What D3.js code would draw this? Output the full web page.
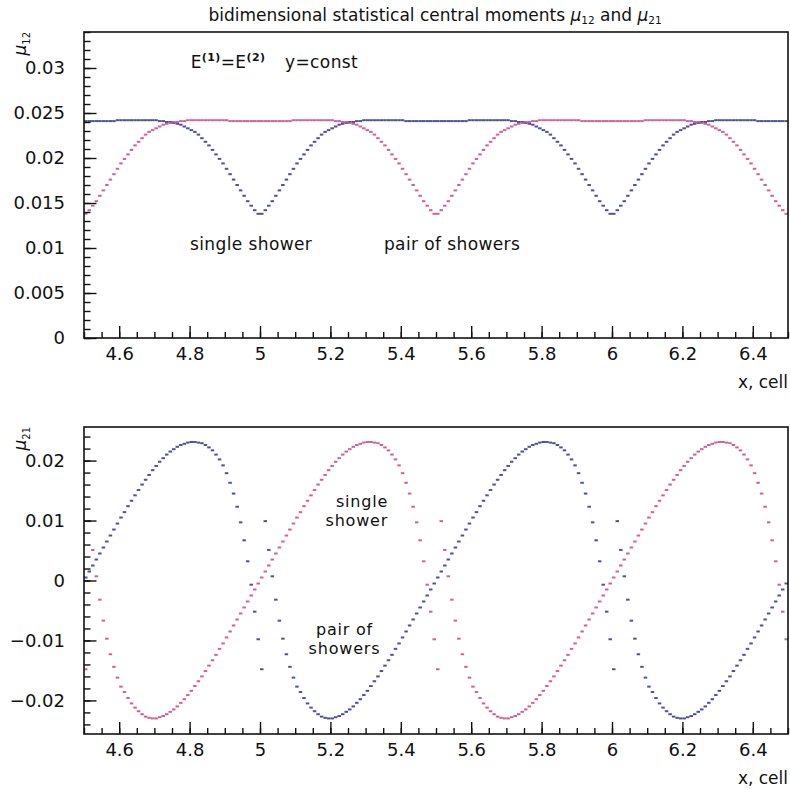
<!DOCTYPE html>
<html>
<head>
<meta charset="utf-8">
<script src="https://cdn.jsdelivr.net/npm/d3@7"></script>
<style>
  body { margin: 0; background: #fff; }
  svg { font-family: 'DejaVu Sans', 'Liberation Sans', sans-serif; fill: #111; }
  .frame { fill: none; stroke: #111; stroke-width: 1.6; }
  .axis path { display: none; }
  .axis line { stroke: #111; stroke-width: 1.4; }
  .axis text { font-size: 18px; fill: #111; font-family: 'DejaVu Sans', sans-serif; }
  .note { font-size: 17px; letter-spacing: 0.4px; }
  .note.small { font-size: 16px; letter-spacing: 0.8px; }
</style>
</head>
<body>
<svg id="chart"></svg>
<script>
// histogram bins: 200 bins of 0.01 cell between 4.5 and 6.5, values at bin centres
const xBins = d3.range(200).map(i => 4.505 + i * 0.01);

// mu_12, single shower (blue) and pair of showers (pink)
const mu12Single = [
  .0241,.0241,.0241,.0241,.0241,.0241,.0241,.0241,.0241,.0242,
  .0242,.0242,.0242,.0242,.0242,.0242,.0242,.0242,.0242,.0242,
  .0242,.0241,.0241,.0240,.0240,.0239,.0238,.0237,.0235,.0233,
  .0231,.0229,.0226,.0222,.0218,.0214,.0209,.0204,.0199,.0194,
  .0188,.0182,.0176,.0170,.0164,.0158,.0152,.0147,.0142,.0138,
  .0138,.0142,.0147,.0152,.0158,.0164,.0170,.0176,.0182,.0188,
  .0194,.0199,.0204,.0209,.0214,.0218,.0222,.0226,.0229,.0231,
  .0233,.0235,.0237,.0238,.0239,.0240,.0240,.0241,.0241,.0242,
  .0242,.0242,.0242,.0242,.0242,.0242,.0242,.0242,.0242,.0242,
  .0242,.0241,.0241,.0241,.0241,.0241,.0241,.0241,.0241,.0241,
  .0241,.0241,.0241,.0241,.0241,.0241,.0241,.0241,.0241,.0242,
  .0242,.0242,.0242,.0242,.0242,.0242,.0242,.0242,.0242,.0242,
  .0242,.0241,.0241,.0240,.0240,.0239,.0238,.0237,.0235,.0233,
  .0231,.0229,.0226,.0222,.0218,.0214,.0209,.0204,.0199,.0194,
  .0188,.0182,.0176,.0170,.0164,.0158,.0152,.0147,.0142,.0138,
  .0138,.0142,.0147,.0152,.0158,.0164,.0170,.0176,.0182,.0188,
  .0194,.0199,.0204,.0209,.0214,.0218,.0222,.0226,.0229,.0231,
  .0233,.0235,.0237,.0238,.0239,.0240,.0240,.0241,.0241,.0242,
  .0242,.0242,.0242,.0242,.0242,.0242,.0242,.0242,.0242,.0242,
  .0242,.0241,.0241,.0241,.0241,.0241,.0241,.0241,.0241,.0241
];
const mu12Pair = [
  .0138,.0142,.0147,.0152,.0158,.0164,.0170,.0176,.0182,.0188,
  .0194,.0199,.0204,.0209,.0214,.0218,.0222,.0226,.0229,.0231,
  .0233,.0235,.0237,.0238,.0239,.0240,.0240,.0241,.0241,.0242,
  .0242,.0242,.0242,.0242,.0242,.0242,.0242,.0242,.0242,.0242,
  .0242,.0241,.0241,.0241,.0241,.0241,.0241,.0241,.0241,.0241,
  .0241,.0241,.0241,.0241,.0241,.0241,.0241,.0241,.0241,.0242,
  .0242,.0242,.0242,.0242,.0242,.0242,.0242,.0242,.0242,.0242,
  .0242,.0241,.0241,.0240,.0240,.0239,.0238,.0237,.0235,.0233,
  .0231,.0229,.0226,.0222,.0218,.0214,.0209,.0204,.0199,.0194,
  .0188,.0182,.0176,.0170,.0164,.0158,.0152,.0147,.0142,.0138,
  .0138,.0142,.0147,.0152,.0158,.0164,.0170,.0176,.0182,.0188,
  .0194,.0199,.0204,.0209,.0214,.0218,.0222,.0226,.0229,.0231,
  .0233,.0235,.0237,.0238,.0239,.0240,.0240,.0241,.0241,.0242,
  .0242,.0242,.0242,.0242,.0242,.0242,.0242,.0242,.0242,.0242,
  .0242,.0241,.0241,.0241,.0241,.0241,.0241,.0241,.0241,.0241,
  .0241,.0241,.0241,.0241,.0241,.0241,.0241,.0241,.0241,.0242,
  .0242,.0242,.0242,.0242,.0242,.0242,.0242,.0242,.0242,.0242,
  .0242,.0241,.0241,.0240,.0240,.0239,.0238,.0237,.0235,.0233,
  .0231,.0229,.0226,.0222,.0218,.0214,.0209,.0204,.0199,.0194,
  .0188,.0182,.0176,.0170,.0164,.0158,.0152,.0147,.0142,.0138
];

// mu_21, single shower (blue) and pair of showers (pink)
const mu21Single = [
  .0005,.0015,.0025,.0035,.0045,.0055,.0065,.0075,.0085,.0095,
  .0105,.0114,.0124,.0133,.0142,.0151,.0160,.0168,.0176,.0184,
  .0191,.0198,.0204,.0210,.0215,.0219,.0223,.0226,.0228,.0230,
  .0231,.0231,.0230,.0229,.0226,.0222,.0217,.0210,.0202,.0192,
  .0179,.0163,.0145,.0123,.0097,.0067,.0032,-.0007,-.0052,-.0098,
  -.0148,.0099,.0051,.0007,-.0032,-.0067,-.0097,-.0123,-.0144,-.0162,
  -.0177,-.0186,-.0196,-.0205,-.0212,-.0218,-.0223,-.0227,-.0229,-.0230,
  -.0230,-.0228,-.0226,-.0223,-.0219,-.0215,-.0210,-.0204,-.0198,-.0191,
  -.0184,-.0176,-.0168,-.0160,-.0151,-.0142,-.0133,-.0124,-.0114,-.0105,
  -.0095,-.0085,-.0075,-.0065,-.0055,-.0045,-.0035,-.0025,-.0015,-.0005,
  .0005,.0015,.0025,.0035,.0045,.0055,.0065,.0075,.0085,.0095,
  .0105,.0114,.0124,.0133,.0142,.0151,.0160,.0168,.0176,.0184,
  .0191,.0198,.0204,.0210,.0215,.0219,.0223,.0226,.0228,.0230,
  .0231,.0231,.0230,.0229,.0226,.0222,.0217,.0210,.0202,.0192,
  .0179,.0163,.0145,.0123,.0097,.0067,.0032,-.0007,-.0052,-.0098,
  -.0148,.0099,.0051,.0007,-.0032,-.0067,-.0097,-.0123,-.0144,-.0162,
  -.0177,-.0186,-.0196,-.0205,-.0212,-.0218,-.0223,-.0227,-.0229,-.0230,
  -.0230,-.0228,-.0226,-.0223,-.0219,-.0215,-.0210,-.0204,-.0198,-.0191,
  -.0184,-.0176,-.0168,-.0160,-.0151,-.0142,-.0133,-.0124,-.0114,-.0105,
  -.0095,-.0085,-.0075,-.0065,-.0055,-.0045,-.0035,-.0025,-.0015,-.0005
];
const mu21Pair = [
  -.0148,.0099,.0051,.0007,-.0032,-.0067,-.0097,-.0123,-.0144,-.0162,
  -.0177,-.0186,-.0196,-.0205,-.0212,-.0218,-.0223,-.0227,-.0229,-.0230,
  -.0230,-.0228,-.0226,-.0223,-.0219,-.0215,-.0210,-.0204,-.0198,-.0191,
  -.0184,-.0176,-.0168,-.0160,-.0151,-.0142,-.0133,-.0124,-.0114,-.0105,
  -.0095,-.0085,-.0075,-.0065,-.0055,-.0045,-.0035,-.0025,-.0015,-.0005,
  .0005,.0015,.0025,.0035,.0045,.0055,.0065,.0075,.0085,.0095,
  .0105,.0114,.0124,.0133,.0142,.0151,.0160,.0168,.0176,.0184,
  .0191,.0198,.0204,.0210,.0215,.0219,.0223,.0226,.0228,.0230,
  .0231,.0231,.0230,.0229,.0226,.0222,.0217,.0210,.0202,.0192,
  .0179,.0163,.0145,.0123,.0097,.0067,.0032,-.0007,-.0052,-.0098,
  -.0148,.0099,.0051,.0007,-.0032,-.0067,-.0097,-.0123,-.0144,-.0162,
  -.0177,-.0186,-.0196,-.0205,-.0212,-.0218,-.0223,-.0227,-.0229,-.0230,
  -.0230,-.0228,-.0226,-.0223,-.0219,-.0215,-.0210,-.0204,-.0198,-.0191,
  -.0184,-.0176,-.0168,-.0160,-.0151,-.0142,-.0133,-.0124,-.0114,-.0105,
  -.0095,-.0085,-.0075,-.0065,-.0055,-.0045,-.0035,-.0025,-.0015,-.0005,
  .0005,.0015,.0025,.0035,.0045,.0055,.0065,.0075,.0085,.0095,
  .0105,.0114,.0124,.0133,.0142,.0151,.0160,.0168,.0176,.0184,
  .0191,.0198,.0204,.0210,.0215,.0219,.0223,.0226,.0228,.0230,
  .0231,.0231,.0230,.0229,.0226,.0222,.0217,.0210,.0202,.0192,
  .0179,.0163,.0145,.0123,.0097,.0067,.0032,-.0007,-.0052,-.0098
];

const xTicks = [4.6, 4.8, 5, 5.2, 5.4, 5.6, 5.8, 6, 6.2, 6.4];
const mu12Ticks = [0, 0.005, 0.01, 0.015, 0.02, 0.025, 0.03];
const mu21Ticks = [-0.02, -0.01, 0, 0.01, 0.02];

const colSingle = '#3a3f96';
const colPair = '#cf4f8c';

class MomentPanel {

  constructor(_config, _series) {
    this.config = {
      parent: _config.parent,
      left: _config.left || 84,
      top: _config.top,
      width: _config.width || 704,
      height: _config.height,
      yDomain: _config.yDomain,
      yTicks: _config.yTicks,
      yMinor: _config.yMinor,
      yFormat: _config.yFormat,
      yIndex: _config.yIndex,
      notes: _config.notes || []
    };
    this.series = _series;
    this.initVis();
  }

  initVis() {
    let vis = this;
    const c = vis.config;

    vis.xScale = d3.scaleLinear().domain([4.5, 6.5]).range([0, c.width]);
    vis.yScale = d3.scaleLinear().domain(c.yDomain).range([c.height, 0]);

    vis.chart = c.parent.append('g')
        .attr('transform', `translate(${c.left},${c.top})`);

    // ROOT style: ticks pointing into the frame
    vis.xMinor = d3.axisBottom(vis.xScale)
        .tickValues(vis.xScale.ticks(40))
        .tickSize(-6)
        .tickFormat('');
    vis.xAxis = d3.axisBottom(vis.xScale)
        .tickValues(xTicks)
        .tickSize(-12)
        .tickPadding(9)
        .tickFormat(d => String(d));
    vis.yMinor = d3.axisLeft(vis.yScale)
        .tickValues(vis.yScale.ticks(c.yMinor))
        .tickSize(-6.5)
        .tickFormat('');
    vis.yAxis = d3.axisLeft(vis.yScale)
        .tickValues(c.yTicks)
        .tickSize(-12.5)
        .tickPadding(19)
        .tickFormat(c.yFormat);

    vis.marks = vis.chart.append('g');

    vis.chart.append('g').attr('class', 'axis')
        .attr('transform', `translate(0,${c.height})`).call(vis.xMinor);
    vis.chart.append('g').attr('class', 'axis')
        .attr('transform', `translate(0,${c.height})`).call(vis.xAxis);
    vis.chart.append('g').attr('class', 'axis').call(vis.yMinor);
    vis.chart.append('g').attr('class', 'axis').call(vis.yAxis);

    vis.chart.append('rect')
        .attr('class', 'frame')
        .attr('width', c.width)
        .attr('height', c.height);

    vis.chart.append('text')
        .attr('x', c.width)
        .attr('y', c.height + 50)
        .attr('text-anchor', 'end')
        .attr('font-size', 17)
        .text('x, cell');

    const yl = vis.chart.append('text')
        .attr('transform', 'translate(-58,0) rotate(-90)')
        .attr('text-anchor', 'end')
        .attr('font-size', 17);
    yl.append('tspan').attr('font-style', 'italic').text('\u03bc');
    yl.append('tspan').attr('font-size', 10).attr('dy', 4).text(c.yIndex);

    vis.renderVis();
  }

  renderVis() {
    let vis = this;

    vis.series.forEach(s => {
      const pts = xBins.map((x, i) => ({x: x, y: s.values[i]}));
      vis.marks.append('g')
          .attr('fill', s.color)
          .attr('fill-opacity', 0.9)
        .selectAll('rect')
          .data(pts)
        .join('rect')
          .attr('x', d => vis.xScale(d.x) - 1.75)
          .attr('y', d => vis.yScale(d.y) - 1)
          .attr('width', 3.5)
          .attr('height', 2);
    });

    vis.config.notes.forEach(n => {
      const t = vis.chart.append('text')
          .attr('class', n.small ? 'note small' : 'note')
          .attr('x', vis.xScale(n.x))
          .attr('y', vis.yScale(n.y))
          .attr('text-anchor', n.anchor || 'start');
      n.parts.forEach(p => {
        const sp = t.append('tspan').text(p.t);
        if (p.sup) sp.attr('font-size', 11).attr('font-weight', 'bold').attr('dy', -7);
        if (p.back) sp.attr('dy', 7);
      });
    });
  }
}

const svg = d3.select('#chart')
    .attr('width', 790)
    .attr('height', 789);

// title
const title = svg.append('text')
    .attr('x', 435)
    .attr('y', 21)
    .attr('text-anchor', 'middle')
    .attr('font-size', 17);
title.append('tspan').text('bidimensional statistical central moments ');
title.append('tspan').attr('font-style', 'italic').text('\u03bc');
title.append('tspan').attr('font-size', 10.5).attr('dy', 3).text('12');
title.append('tspan').attr('dy', -3).text(' and ');
title.append('tspan').attr('font-style', 'italic').text('\u03bc');
title.append('tspan').attr('font-size', 10.5).attr('dy', 3).text('21');

new MomentPanel({
  parent: svg,
  top: 32,
  height: 306,
  yDomain: [0, 0.034],
  yTicks: mu12Ticks,
  yMinor: 34,
  yFormat: d => d === 0 ? '0' : d3.format('.3~f')(d),
  yIndex: '12',
  notes: [
    {x: 4.803, y: 0.02995, parts: [{t: 'E'}, {t: '(1)', sup: true}, {t: '=E', back: true}, {t: '(2)', sup: true}]},
    {x: 5.071, y: 0.02995, parts: [{t: 'y=const'}]},
    {x: 4.801, y: 0.0098, parts: [{t: 'single shower'}]},
    {x: 5.352, y: 0.0098, parts: [{t: 'pair of showers'}]}
  ]
}, [
  {values: mu12Single, color: colSingle},
  {values: mu12Pair, color: colPair}
]);

new MomentPanel({
  parent: svg,
  top: 427,
  height: 307,
  yDomain: [-0.0256, 0.0256],
  yTicks: mu21Ticks,
  yMinor: 25,
  yFormat: d => d === 0 ? '0' : d3.format('.2~f')(d),
  yIndex: '21',
  notes: [
    {x: 5.364, y: 0.01222, anchor: 'end', small: true, parts: [{t: 'single'}]},
    {x: 5.364, y: 0.00904, anchor: 'end', small: true, parts: [{t: 'shower'}]},
    {x: 5.240, y: -0.00904, anchor: 'middle', small: true, parts: [{t: 'pair of'}]},
    {x: 5.240, y: -0.01222, anchor: 'middle', small: true, parts: [{t: 'showers'}]}
  ]
}, [
  {values: mu21Single, color: colSingle},
  {values: mu21Pair, color: colPair}
]);
</script>
</body>
</html>
